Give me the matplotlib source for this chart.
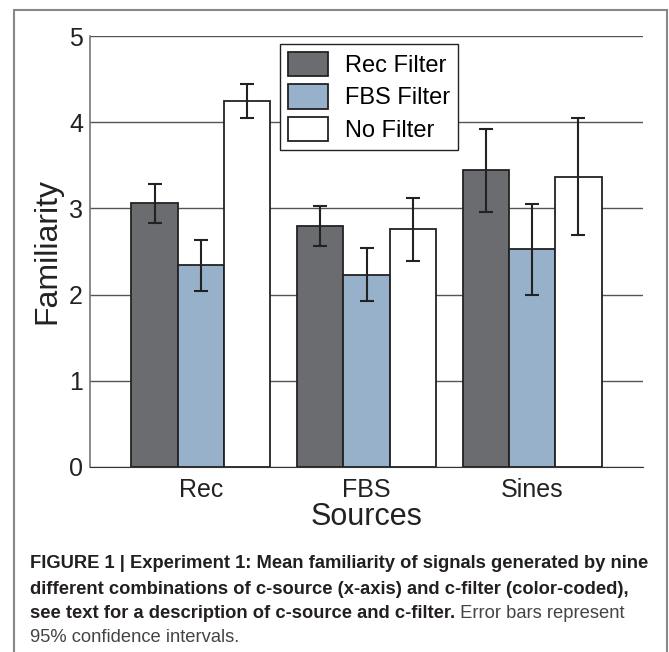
import numpy as np
import matplotlib.pyplot as plt
from matplotlib.patches import Rectangle

# data
sources = ['Rec', 'FBS', 'Sines']
filters = ['Rec Filter', 'FBS Filter', 'No Filter']
means = [[3.06, 2.80, 3.44],
         [2.34, 2.23, 2.53],
         [4.25, 2.76, 3.37]]
lower = [[2.83, 2.56, 2.96],
         [2.04, 1.92, 2.00],
         [4.05, 2.39, 2.69]]
upper = [[3.28, 3.03, 3.92],
         [2.63, 2.54, 3.05],
         [4.44, 3.12, 4.05]]
colors = ['#6b6c70', '#97b1cb', '#ffffff']

plt.rcParams['font.family'] = ['Liberation Sans', 'DejaVu Sans']

fig = plt.figure(figsize=(6.69, 6.52), dpi=100)
ax = fig.add_axes([90/669, 1-467/652, (643-90)/669, (467-36)/652])

x = np.arange(1, len(sources)+1)
w = 0.28
for i in range(3):
    m = np.array(means[i])
    err = [m - np.array(lower[i]), np.array(upper[i]) - m]
    ax.bar(x + (i-1)*w, m, w, color=colors[i], edgecolor='#222222', linewidth=1.3,
           label=filters[i], zorder=3)
    ax.errorbar(x + (i-1)*w, m, yerr=err, fmt='none', ecolor='#222222',
                elinewidth=1.5, capsize=5, capthick=1.5, zorder=4)

ax.set_xlim(0.33, 3.67)
ax.set_ylim(0, 5)
ax.set_yticks([0, 1, 2, 3, 4, 5])
ax.set_xticks(x)
ax.set_xticklabels(sources)
ax.yaxis.grid(True, color='#555555', linewidth=1.0, zorder=0)
ax.set_axisbelow(True)
for s in ['top', 'right']:
    ax.spines[s].set_visible(False)
ax.spines['left'].set_color('#777777')
ax.spines['left'].set_linewidth(1.2)
ax.spines['bottom'].set_color('#333333')
ax.tick_params(axis='both', length=0, labelsize=18, colors='#222222', pad=5)
ax.tick_params(axis='x', pad=8)
ax.set_ylabel('Familiarity', fontsize=23, color='#222222', labelpad=5)
ax.set_xlabel('Sources', fontsize=22, color='#222222', labelpad=0)

leg = ax.legend(loc='upper left', bbox_to_anchor=(280/669, 1-44/652),
                bbox_transform=fig.transFigure, fontsize=17, fancybox=False,
                framealpha=1, edgecolor='#222222', handlelength=1.7,
                handleheight=1.2, handletextpad=0.7, labelspacing=0.3,
                borderpad=0.35, borderaxespad=0)
leg.get_frame().set_linewidth(1.0)

# outer frame
fig.patches.append(Rectangle((14/669, -0.1), (667-14)/669, 1.1 - 10/652,
                             transform=fig.transFigure, fill=False,
                             edgecolor='#888888', linewidth=1.5))

# caption
cap_font = ['Liberation Sans', 'DejaVu Sans']
bold_lines = ['FIGURE 1 | Experiment 1: Mean familiarity of signals generated by nine',
              'different combinations of c-source (x-axis) and c-filter (color-coded),',
              'see text for a description of c-source and c-filter.']
reg_tail = ' Error bars represent'
last_line = '95% confidence intervals.'
ys = [564, 589, 613, 637]
fs = 11.5
fig.canvas.draw()
r = fig.canvas.get_renderer()
t0 = fig.text(30/669, 1-ys[0]/652, bold_lines[0], fontsize=fs, fontweight='bold',
              family=cap_font, va='center', color='#231f20')
wpx = t0.get_window_extent(r).width
fs = fs * 622 / wpx
t0.set_fontsize(fs)
for yy, line in zip(ys[1:3], bold_lines[1:]):
    t = fig.text(30/669, 1-yy/652, line, fontsize=fs, fontweight='bold',
                 family=cap_font, va='center', color='#231f20')
bb = t.get_window_extent(r)
fig.text(bb.x1/669, 1-ys[2]/652, reg_tail, fontsize=fs, family=cap_font,
         va='center', color='#444444')
fig.text(30/669, 1-ys[3]/652, last_line, fontsize=fs, family=cap_font,
         va='center', color='#444444')

fig.savefig('out.png', dpi=100)
